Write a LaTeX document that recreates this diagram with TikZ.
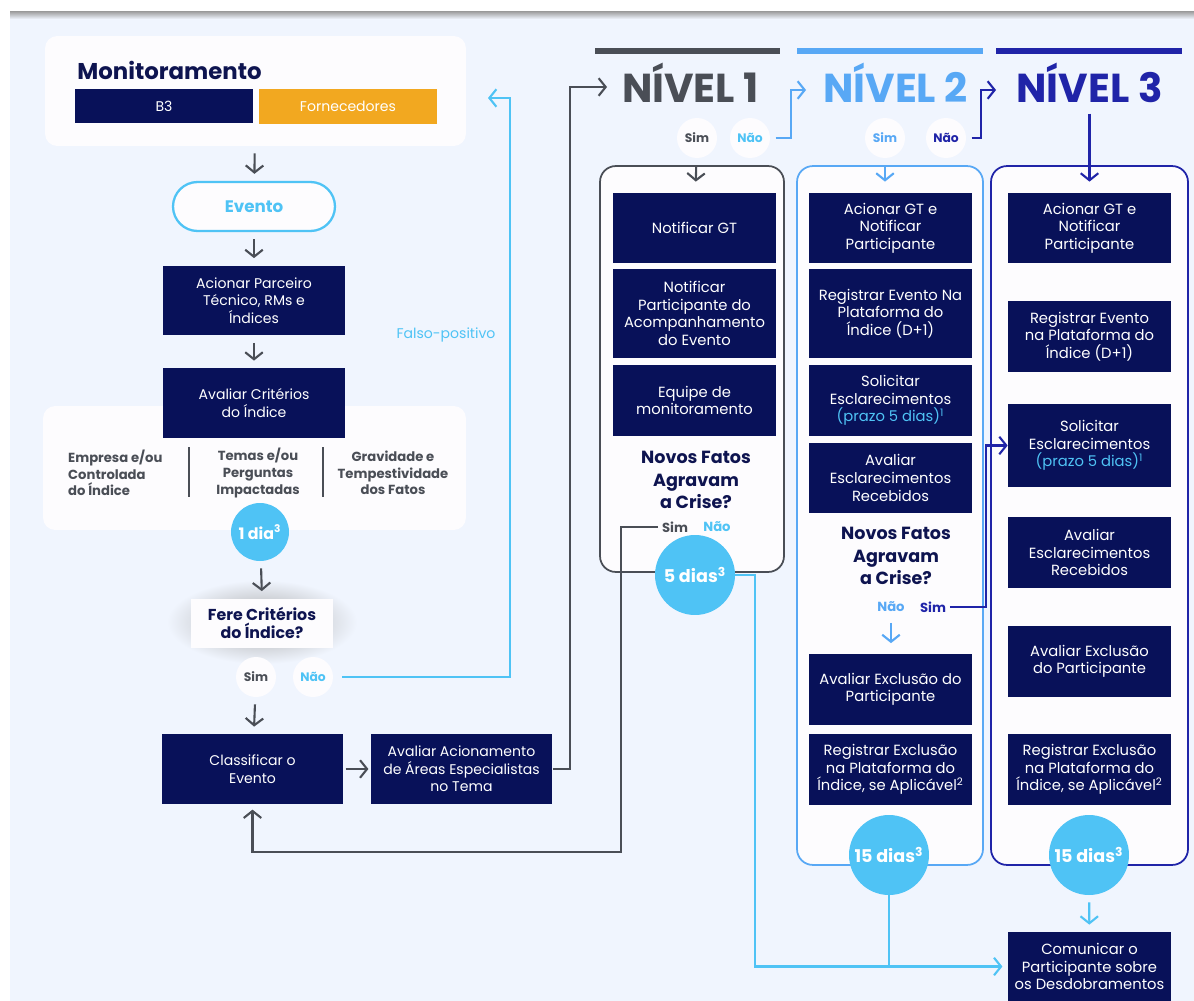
\documentclass[tikz,border=0pt]{standalone}
\usepackage{fontspec}
\setmainfont{Poppins}
\usepackage{tikz}
\usetikzlibrary{arrows.meta}
\usetikzlibrary{shapes,positioning,calc}

\definecolor{navybox}{RGB}{8,17,89}
\definecolor{pagebg}{RGB}{240,245,254}
\definecolor{panelw}{RGB}{253,252,254}
\definecolor{skyblue}{RGB}{79,195,245}
\definecolor{lvltwo}{RGB}{88,168,245}
\definecolor{lvlthree}{RGB}{32,36,168}
\definecolor{darkgray}{RGB}{74,78,86}
\definecolor{orangebox}{RGB}{242,168,32}
\definecolor{titlenavy}{RGB}{14,20,80}

\begin{document}
\begin{tikzpicture}[x=0.02cm, y=-0.02cm, >={Straight Barb[length=4pt,width=10pt]},
	leftbox/.style={fill=navybox, text=white, align=center, inner sep=1pt, minimum width=3.64cm, minimum height=1.4cm, font=\fontsize{8}{10}\selectfont},
	lvlbox/.style={fill=navybox, text=white, align=center, inner sep=1pt, minimum width=3.26cm, minimum height=1.42cm, font=\fontsize{8.4}{10}\selectfont},
	panel/.style={fill=panelw, rounded corners=7pt},
	column/.style={fill=panelw, rounded corners=9pt, line width=1pt},
	daycircle/.style={circle, fill=skyblue, text=white, inner sep=0pt, font=\bfseries\fontsize{10}{12}\selectfont},
	answer/.style={circle, fill=panelw, minimum size=0.8cm, inner sep=0pt, font=\bfseries\fontsize{7}{8}\selectfont},
	answertext/.style={inner sep=2pt, font=\bfseries\fontsize{7.5}{8}\selectfont},
	question/.style={align=center, text=titlenavy, font=\bfseries\fontsize{10}{12.8}\selectfont},
	crit/.style={text=darkgray, font=\bfseries\fontsize{7.5}{9.4}\selectfont},
	heading/.style={anchor=base, font=\bfseries\fontsize{23}{23}\selectfont},
	grayline/.style={draw=darkgray, line width=1.2pt},
	grayflow/.style={grayline, ->, shorten >=4pt, shorten <=4pt},
	skyline/.style={draw=skyblue, line width=1.2pt},
	twoline/.style={draw=lvltwo, line width=1.2pt},
	threeline/.style={draw=lvlthree, line width=1.2pt}]

	% background
	\useasboundingbox (0,0) rectangle (1194,1001);
	\fill[white] (0,0) rectangle (1194,1001);
	\fill[pagebg] (10,13) rectangle (1194,1001);
	\shade[top color=black!40, bottom color=pagebg] (10,11) rectangle (1194,19);

	% monitoramento
	\node[panel, minimum width=8.42cm, minimum height=2.2cm] (monpanel) at (255.5,91) {};
	\node[anchor=west, inner sep=0pt, text=titlenavy, font=\bfseries\fontsize{13}{15}\selectfont] (montitle) at (77,70) {Monitoramento};
	\node[fill=navybox, text=white, minimum width=3.56cm, minimum height=0.68cm, font=\fontsize{8}{9}\selectfont] (bthree) at (164,106) {B3};
	\node[fill=orangebox, text=white, minimum width=3.56cm, minimum height=0.7cm, font=\fontsize{8}{9}\selectfont] (fornec) at (348,106.5) {Fornecedores};

	\node[draw=skyblue, line width=1.3pt, fill=panelw, rounded corners=0.49cm, minimum width=3.24cm, minimum height=0.98cm, text=skyblue, font=\bfseries\fontsize{9.5}{11}\selectfont] (evento) at (254,206.5) {Evento};
	\node[leftbox] (acionar) at (254,300.5) {Acionar Parceiro\\Técnico, RMs e\\Índices};

	% criterios
	\node[panel, minimum width=8.46cm, minimum height=2.48cm] (critpanel) at (254.5,468) {};
	\node[leftbox] (avaliarcrit) at (254,403) {Avaliar Critérios\\do Índice};
	\node[crit, anchor=west, align=left] (empresa) at (62,473) {Empresa e/ou\\Controlada\\do Índice};
	\node[crit, align=center] (temas) at (258,473) {Temas e/ou\\Perguntas\\Impactadas};
	\node[crit, align=center] (gravidade) at (393,473) {Gravidade e\\Tempestividade\\dos Fatos};
	\draw[darkgray, line width=0.8pt] (189,447) -- (189,497);
	\draw[darkgray, line width=0.8pt] (323,447) -- (323,497);
	\node[daycircle, minimum size=1.16cm, font=\bfseries\fontsize{9}{10}\selectfont] (umdia) at (260,532) {1 dia\textsuperscript{3}};

	% fere criterios
	\shade[inner color=black!35, outer color=pagebg] (262,622) ellipse [x radius=95, y radius=42];
	\node[fill=panelw, minimum width=2.84cm, minimum height=0.98cm, question, font=\bfseries\fontsize{9}{10.3}\selectfont] (fere) at (262,623) {Fere Critérios\\do Índice?};
	\node[answer, text=darkgray] (simfere) at (256,677) {Sim};
	\node[answer, text=skyblue] (naofere) at (313,677) {Não};

	\node[leftbox] (classificar) at (252.5,769) {Classificar o\\Evento};
	\node[leftbox] (avaliaracion) at (461.5,769) {Avaliar Acionamento\\de Áreas Especialistas\\no Tema};
	\node[text=skyblue, font=\fontsize{8}{9}\selectfont] (falso) at (446,335) {Falso-positivo};

	% flow of the left column
	\draw[grayflow] (monpanel) -- (evento);
	\draw[grayflow] (evento) -- (acionar);
	\draw[grayflow] (acionar) -- (avaliarcrit);
	\draw[grayflow] (umdia) -- (fere.north);
	\draw[grayflow] (simfere) -- (classificar);
	\draw[grayflow, shorten <=1pt, shorten >=1pt] (classificar) -- (avaliaracion);
	\coordinate (fpin) at (488,98);
	\draw[skyline, ->, shorten <=5pt] (naofere.east) -- ++(177,0) |- (fpin);

	% level headers
	\draw[darkgray, line width=3.4pt] (595,51) -- (780,51);
	\draw[lvltwo, line width=3.4pt] (797,51) -- (983,51);
	\draw[lvlthree, line width=3.4pt] (996,51) -- (1182,51);
	\node[heading, text=darkgray] (nivelone) at (690.5,102) {NÍVEL 1};
	\node[heading, text=lvltwo] (niveltwo) at (895.5,102) {NÍVEL 2};
	\node[heading, text=lvlthree] (nivelthree) at (1089.5,102) {NÍVEL 3};
	\coordinate (nonein) at (607,87);
	\draw[grayline, ->] (avaliaracion.east) -- ++(17,0) |- (nonein);

	\node[answer, text=darkgray] (simtopone) at (697,138) {Sim};
	\node[answer, text=skyblue] (naotopone) at (750,138) {Não};
	\node[answer, text=lvltwo] (simtoptwo) at (885,138) {Sim};
	\node[answer, text=lvlthree] (naotoptwo) at (946,138) {Não};
	\coordinate (ntwoin) at (806,90);
	\coordinate (nthreein) at (996,90);
	\draw[twoline, ->, shorten <=3pt] (naotopone.east) -- ++(21,0) |- (ntwoin);
	\draw[threeline, ->, shorten <=3pt] (naotoptwo.east) -- ++(15,0) |- (nthreein);

	% columns
	\node[column, draw=darkgray, minimum width=3.68cm, minimum height=8.12cm] (colone) at (692,369) {};
	\node[column, draw=lvltwo, minimum width=3.72cm, minimum height=13.98cm] (coltwo) at (890,515.5) {};
	\node[column, draw=lvlthree, minimum width=3.94cm, minimum height=13.98cm] (colthree) at (1089.5,515.5) {};

	% nivel 1
	\node[lvlbox] (notgt) at (694.5,228) {Notificar GT};
	\node[lvlbox, minimum height=1.78cm] (notpart) at (694.5,313.5) {Notificar\\Participante do\\Acompanhamento\\do Evento};
	\node[lvlbox] (equipe) at (694.5,400.5) {Equipe de\\monitoramento};
	\node[question] (novosone) at (696,480) {Novos Fatos\\Agravam\\a Crise?};
	\node[answertext, text=darkgray] (simone) at (675,527) {Sim};
	\node[answertext, text=skyblue] (naoone) at (717,527) {Não};
	\node[daycircle, minimum size=1.6cm] (cinco) at (695,575) {5 dias\textsuperscript{3}};

	% nivel 2
	\node[lvlbox] (acionartwo) at (890.5,228) {Acionar GT e\\Notificar\\Participante};
	\node[lvlbox, minimum height=1.78cm] (registrartwo) at (890.5,313.5) {Registrar Evento Na\\Plataforma do\\Índice (D+1)};
	\node[lvlbox] (solicitartwo) at (890.5,400.5) {Solicitar\\Esclarecimentos\\\textcolor{skyblue}{(prazo 5 dias)\textsuperscript{1}}};
	\node[lvlbox] (avaliaresctwo) at (890.5,478) {Avaliar\\Esclarecimentos\\Recebidos};
	\node[question] (novostwo) at (896,556) {Novos Fatos\\Agravam\\a Crise?};
	\node[answertext, text=lvltwo] (naotwo) at (891,607) {Não};
	\node[answertext, text=lvlthree] (simtwo) at (933,607) {Sim};
	\node[lvlbox] (avaliarexctwo) at (890.5,689.5) {Avaliar Exclusão do\\Participante};
	\node[lvlbox] (regexctwo) at (890.5,769.5) {Registrar Exclusão\\na Plataforma do\\Índice, se Aplicável\textsuperscript{2}};
	\node[daycircle, minimum size=1.6cm] (quinzetwo) at (889,855) {15 dias\textsuperscript{3}};

	% nivel 3
	\node[lvlbox] (acionarthree) at (1089.5,228) {Acionar GT e\\Notificar\\Participante};
	\node[lvlbox] (registrarthree) at (1089.5,336.5) {Registrar Evento\\na Plataforma do\\Índice (D+1)};
	\node[lvlbox, minimum height=1.66cm] (solicitarthree) at (1089.5,445.5) {Solicitar\\Esclarecimentos\\\textcolor{skyblue}{(prazo 5 dias)\textsuperscript{1}}};
	\node[lvlbox] (avaliarescthree) at (1089.5,552.5) {Avaliar\\Esclarecimentos\\Recebidos};
	\node[lvlbox] (avaliarexcthree) at (1089.5,661.5) {Avaliar Exclusão\\do Participante};
	\node[lvlbox] (regexcthree) at (1089.5,769.5) {Registrar Exclusão\\na Plataforma do\\Índice, se Aplicável\textsuperscript{2}};
	\node[daycircle, minimum size=1.6cm] (quinzethree) at (1089,855) {15 dias\textsuperscript{3}};
	\node[lvlbox, minimum height=1.38cm] (comunicar) at (1089.5,966.5) {Comunicar o\\Participante sobre\\os Desdobramentos};

	% flow of the levels
	\draw[grayline, ->, shorten <=4pt, shorten >=6pt] (simtopone) -- (notgt);
	\draw[twoline, ->, shorten <=4pt, shorten >=6pt] (simtoptwo.south) -- (simtoptwo.south |- acionartwo.north);
	\draw[threeline, ->, shorten <=3pt, shorten >=6pt] (nivelthree.south) -- (acionarthree.north);
	\draw[twoline, ->, shorten <=4pt, shorten >=6pt] (naotwo.south) -- (naotwo.south |- avaliarexctwo.north);
	\coordinate (retcorner) at (621,852);
	\draw[grayline, ->, shorten >=3pt] (simone.west) -| (retcorner) -| (classificar.south);
	\coordinate (indigocorner) at (986,607);
	\draw[threeline, ->] (simtwo.east) -| (indigocorner) |- (solicitarthree.west);
	\draw[skyline, ->, shorten >=3pt] (cinco.east) -- ++(20,0) |- (comunicar.west);
	\draw[skyline] (quinzetwo.south) -- (quinzetwo.south |- comunicar.west);
	\draw[skyline, ->, shorten <=4pt, shorten >=4pt] (quinzethree) -- (comunicar);
\end{tikzpicture}
\end{document}
